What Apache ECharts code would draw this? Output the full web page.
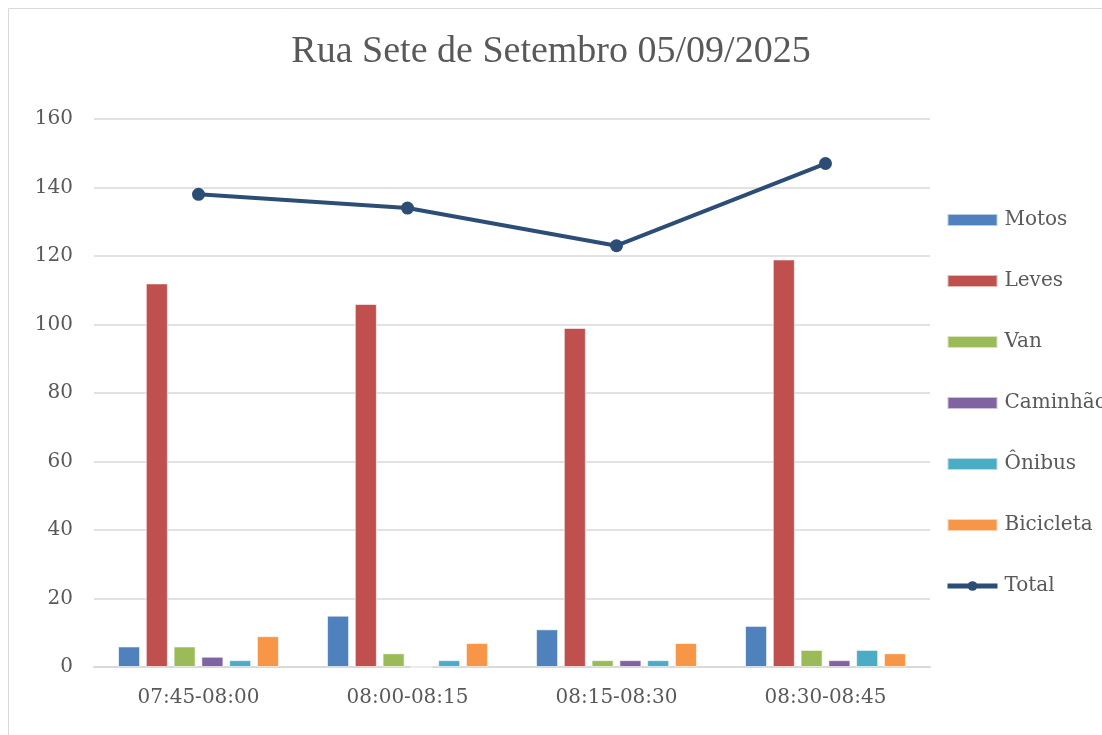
<!DOCTYPE html>
<html>
<head>
<meta charset="utf-8">
<script src="https://cdn.jsdelivr.net/npm/echarts@6/dist/echarts.min.js"></script>
<style>
  html, body { margin: 0; padding: 0; background: #fff; }
  #chart { width: 1102px; height: 735px; }
</style>
</head>
<body>
<div id="chart"></div>
<script>
// horários
const categories = ['07:45-08:00', '08:00-08:15', '08:15-08:30', '08:30-08:45'];

const motos = [6, 15, 11, 12];
const leves = [112, 106, 99, 119];
const van = [6, 4, 2, 5];
const caminhao = [3, 0, 2, 2];
const onibus = [2, 2, 2, 5];
const bicicleta = [9, 7, 7, 4];
const total = [138, 134, 123, 147];

const yTicks = [0, 20, 40, 60, 80, 100, 120, 140, 160];

const fonteTitulo = '"Liberation Serif", serif';
const fonte = '"DejaVu Serif", serif';
const cinza = '#595959';

function barra(name, data, color) {
  return {
    name: name,
    type: 'bar',
    data: data,
    barGap: '26%',
    barCategoryGap: '23%',
    itemStyle: { color: color, borderColor: 'rgba(255,255,255,0.6)', borderWidth: 1 }
  };
}

const chart = echarts.init(document.getElementById('chart'));

chart.setOption({
  animation: false,
  textStyle: { fontFamily: fonte },
  title: {
    text: 'Rua Sete de Setembro 05/09/2025',
    left: 'center',
    top: 28,
    textStyle: { fontFamily: fonteTitulo, fontSize: 38, fontWeight: 'normal', color: cinza }
  },
  graphic: [{
    type: 'rect',
    shape: { x: 8.5, y: 8.5, width: 1110, height: 740 },
    style: { fill: 'none', stroke: '#d9d9d9', lineWidth: 1 },
    silent: true
  }],
  legend: {
    orient: 'vertical',
    left: 940,
    top: 205,
    itemWidth: 50,
    itemHeight: 12,
    itemGap: 41,
    textStyle: { fontFamily: fonte, fontSize: 20, color: cinza, padding: [0, 0, 0, 2] },
    data: [
      { name: 'Motos', icon: 'rect' },
      { name: 'Leves', icon: 'rect' },
      { name: 'Van', icon: 'rect' },
      { name: 'Caminhão', icon: 'rect' },
      { name: 'Ônibus', icon: 'rect' },
      { name: 'Bicicleta', icon: 'rect' },
      { name: 'Total', lineStyle: { width: 5 } }
    ]
  },
  grid: { left: 94, right: 172, top: 119, bottom: 68 },
  xAxis: {
    type: 'category',
    data: categories,
    axisLine: { lineStyle: { color: '#d9d9d9', width: 2 } },
    axisTick: { show: false },
    axisLabel: { fontFamily: fonte, fontSize: 20, color: cinza, margin: 21 }
  },
  yAxis: {
    type: 'value',
    min: yTicks[0],
    max: yTicks[yTicks.length - 1],
    interval: 20,
    axisLine: { show: false },
    axisTick: { show: false },
    splitLine: { lineStyle: { color: '#d9d9d9', width: 1.5 } },
    axisLabel: { fontFamily: fonte, fontSize: 20, color: cinza, margin: 21 }
  },
  series: [
    barra('Motos', motos, '#4f81bd'),
    barra('Leves', leves, '#c0504d'),
    barra('Van', van, '#9bbb59'),
    barra('Caminhão', caminhao, '#8064a2'),
    barra('Ônibus', onibus, '#4bacc6'),
    barra('Bicicleta', bicicleta, '#f79646'),
    {
      name: 'Total',
      type: 'line',
      data: total,
      symbol: 'circle',
      symbolSize: 13,
      itemStyle: { color: '#2c4d75' },
      lineStyle: { color: '#2c4d75', width: 4 }
    }
  ]
});

window.addEventListener('resize', () => {
  chart.resize();
});
</script>
</body>
</html>
